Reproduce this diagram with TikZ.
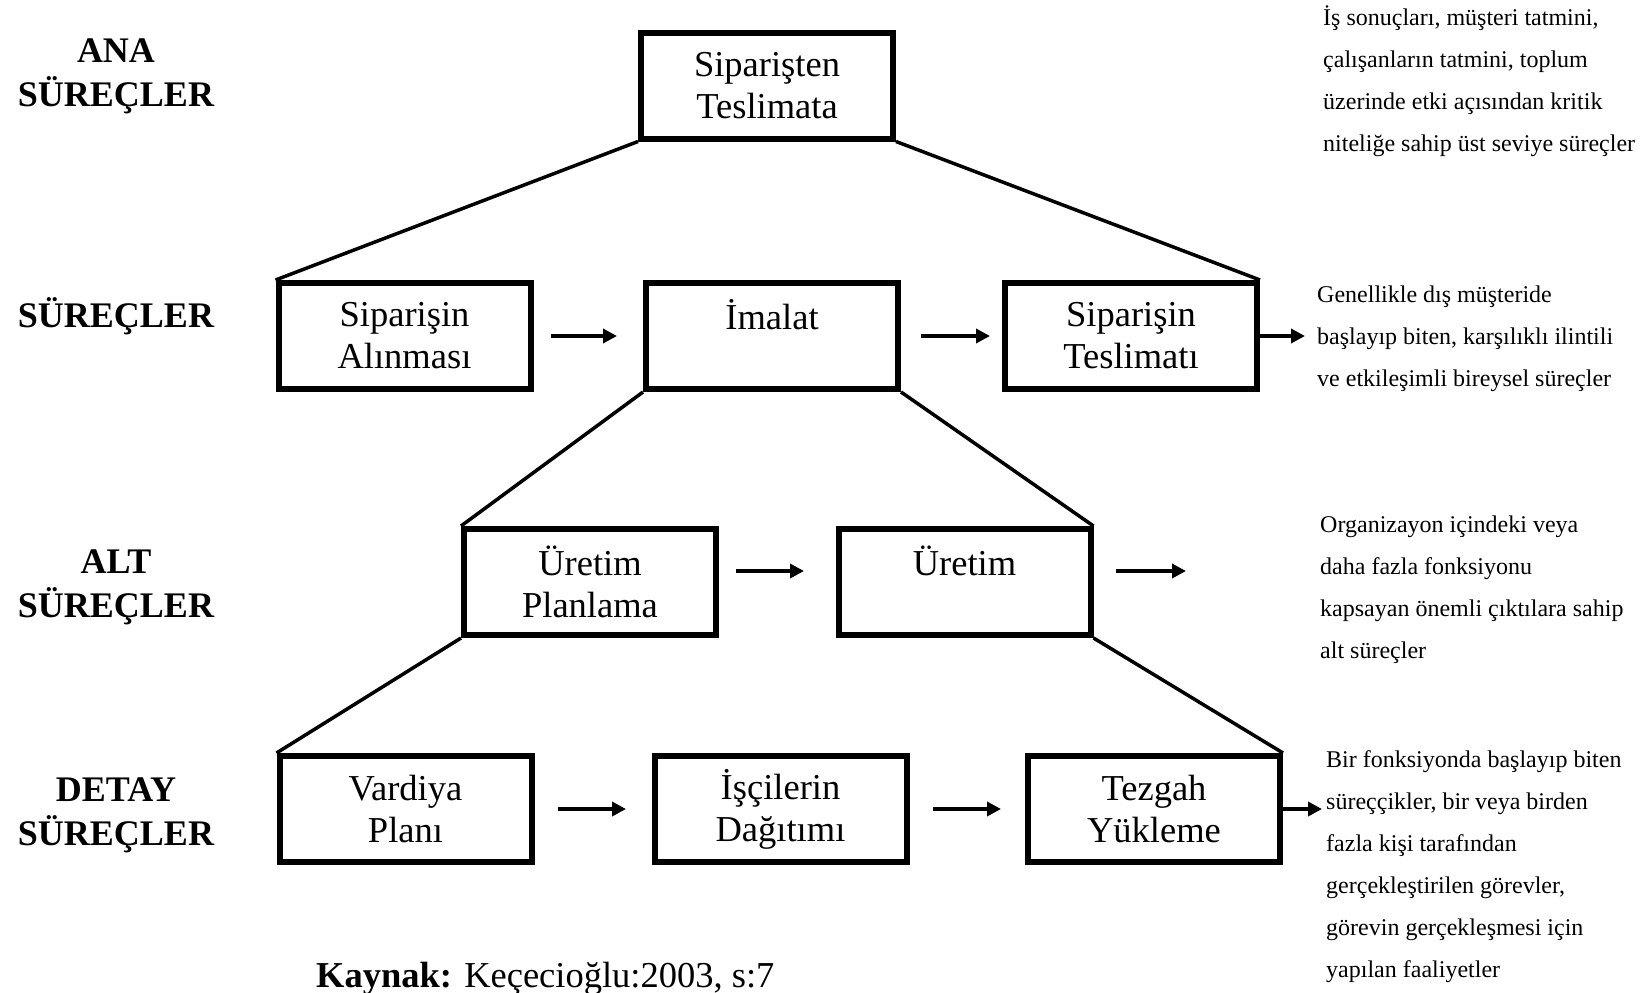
\documentclass[tikz,border=0pt]{standalone}
\usepackage{fontspec}
\setmainfont{Liberation Serif}
\usetikzlibrary{arrows.meta}
\begin{document}
\begin{tikzpicture}[x=1pt,y=-1pt,
  box/.style={draw, line width=6pt, minimum width=252pt, minimum height=106pt,
    align=center, inner sep=0pt, font=\fontsize{36.5}{42}\selectfont},
  level/.style={align=center, inner sep=0pt, font=\fontsize{36}{44}\selectfont\bfseries},
  note/.style={align=left, anchor=west, inner sep=0pt, font=\fontsize{24}{42}\selectfont},
  link/.style={line width=3.5pt},
  flow/.style={line width=4pt, -{Triangle[length=14pt,width=14pt]}},
]
\useasboundingbox (0,0) rectangle (1649,993);

% level labels
\node[level] (lv1) at (116,76.5) {ANA\\SÜREÇLER};
\node[level] (lv2) at (116,316) {SÜREÇLER};
\node[level] (lv3) at (116,587.5) {ALT\\SÜREÇLER};
\node[level] (lv4) at (116,815) {DETAY\\SÜREÇLER};

% process boxes
\node[box] (main)    at (767,85.5)  {Siparişten\\Teslimata};
\node[box] (alis)    at (404.5,336) {Siparişin\\Alınması};
\node[box] (imalat)  at (772,336)   {İmalat\\\phantom{Alınması}};
\node[box] (teslim)  at (1131,336)  {Siparişin\\Teslimatı};
\node[box] (plan)    at (590,582)   {Üretim\\Planlama};
\node[box] (uretim)  at (964.5,582) {Üretim\\\phantom{Planlama}};
\node[box] (vardiya) at (405.5,809) {Vardiya\\Planı};
\node[box] (isci)    at (780.5,809) {İşçilerin\\Dağıtımı};
\node[box] (tezgah)  at (1154,809)  {Tezgah\\Yükleme};

% descriptions
\node[note] (t1) at (1323,81) {İş sonuçları, müşteri tatmini,\\çalışanların tatmini, toplum\\üzerinde etki açısından kritik\\niteliğe sahip üst seviye süreçler};
\node[note] (t2) at (1317,339) {Genellikle dış müşteride\\başlayıp biten, karşılıklı ilintili\\ve etkileşimli bireysel süreçler};
\node[note] (t3) at (1320,590) {Organizayon içindeki veya\\daha fazla fonksiyonu\\kapsayan önemli çıktılara sahip\\alt süreçler};
\node[note] (t4) at (1326,867) {Bir fonksiyonda başlayıp biten\\süreççikler, bir veya birden\\fazla kişi tarafından\\gerçekleştirilen görevler,\\görevin gerçekleşmesi için\\yapılan faaliyetler};

% source
\node[anchor=base west, inner sep=0pt, font=\fontsize{36.5}{42}\selectfont] (src) at (316,987) {\textbf{Kaynak:} Keçecioğlu:2003, s:7};

% decomposition lines
\draw[link] (main.south west) -- (alis.north west);
\draw[link] (main.south east) -- (teslim.north east);
\draw[link] (imalat.south west) -- (plan.north west);
\draw[link] (imalat.south east) -- (uretim.north east);
\draw[link] (plan.south west) -- (vardiya.north west);
\draw[link] (uretim.south east) -- (tezgah.north east);

% flow arrows
\draw[flow, shorten <=17.5pt, shorten >=26pt] (alis.east) -- (imalat.west);
\draw[flow, shorten <=20pt, shorten >=12pt] (imalat.east) -- (teslim.west);
\draw[flow, shorten >=12pt] (teslim.east) -- (teslim.east -| t2.west);

\coordinate (uout) at (1186,571);
\draw[flow, shorten <=17pt, shorten >=31.5pt] ([yshift=11pt]plan.east) -- ([yshift=11pt]uretim.west);
\draw[flow, shorten <=22.5pt] ([yshift=11pt]uretim.east) -- (uout);

\draw[flow, shorten <=23.5pt, shorten >=25.5pt] (vardiya.east) -- (isci.west);
\draw[flow, shorten <=23.5pt, shorten >=24pt] (isci.east) -- (tezgah.west);
\draw[flow, shorten >=4pt] (tezgah.east) -- (tezgah.east -| t4.west);
\end{tikzpicture}
\end{document}
